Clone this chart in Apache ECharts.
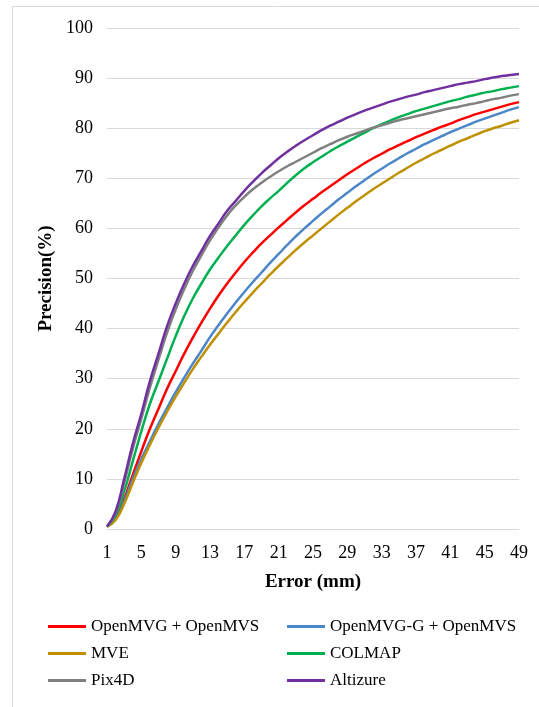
<!DOCTYPE html>
<html>
<head>
<meta charset="utf-8">
<title>Precision vs Error</title>
<script src="https://cdn.jsdelivr.net/npm/echarts@6/dist/echarts.min.js"></script>
<style>
  html, body { margin: 0; padding: 0; background: #fff; }
  #chart { width: 539px; height: 707px; }
</style>
</head>
<body>
<div id="chart"></div>
<script>
  // x 轴类别（误差 mm）
  const errorMm = ['1','2','3','4','5','6','7','8','9','10','11','12','13','14','15','16','17','18','19','20',
    '21','22','23','24','25','26','27','28','29','30','31','32','33','34','35','36','37','38','39','40',
    '41','42','43','44','45','46','47','48','49'];

  // 各方法精度（%）
  const openMvgOpenMvs = [0.5,2.2,6,10.8,15.5,20,24,28,31.5,35,38.2,41.2,44,46.6,49,51.2,53.3,55.2,57.0,58.6,
    60.2,61.7,63.2,64.6,65.9,67.2,68.4,69.6,70.8,71.9,73.0,74.0,74.9,75.8,76.6,77.4,78.2,78.9,79.6,80.3,
    80.9,81.6,82.2,82.8,83.3,83.8,84.3,84.8,85.2];
  const openMvgGOpenMvs = [0.5,2.0,5.5,10,14,17.5,21,24.2,27.3,30.2,33,35.6,38.3,40.7,43.0,45.2,47.3,49.3,51.2,53.1,
    54.9,56.7,58.4,60.0,61.5,63.0,64.4,65.8,67.1,68.4,69.6,70.8,71.9,73.0,74.0,75.0,75.9,76.8,77.6,78.4,
    79.2,79.9,80.6,81.3,81.9,82.5,83.1,83.7,84.2];
  const mve = [0.5,1.8,5.0,9.2,13.2,16.8,20.2,23.4,26.4,29.2,31.9,34.4,36.8,39.0,41.2,43.3,45.3,47.2,49.0,50.8,
    52.5,54.1,55.7,57.2,58.6,60.0,61.4,62.8,64.1,65.4,66.6,67.8,68.9,70.0,71.1,72.1,73.1,74.0,74.9,75.7,
    76.5,77.3,78.0,78.7,79.4,80.0,80.5,81.1,81.6];
  const colmap = [0.5,2.8,7.5,13.5,19.5,25,29.5,34,38.5,42.5,46,49,51.8,54.2,56.5,58.6,60.7,62.6,64.4,66.0,
    67.5,69.1,70.6,72.0,73.2,74.3,75.4,76.4,77.3,78.2,79.1,80.0,80.8,81.5,82.2,82.8,83.4,83.9,84.4,84.9,
    85.4,85.8,86.3,86.7,87.1,87.4,87.8,88.1,88.4];
  const pix4d = [0.5,3.2,9.2,16.0,22.0,28.2,33.8,39.2,43.8,47.9,51.5,54.6,57.6,60.2,62.6,64.6,66.3,67.8,69.1,70.3,
    71.4,72.4,73.3,74.2,75.1,76.0,76.8,77.6,78.3,78.9,79.5,80.1,80.6,81.1,81.6,82.0,82.4,82.8,83.2,83.6,
    84.0,84.3,84.7,85.0,85.4,85.8,86.1,86.5,86.8];
  const altizure = [0.5,3.5,10,17,23,29.5,35,40.5,45,49,52.5,55.5,58.5,61,63.5,65.5,67.5,69.3,71,72.5,
    74,75.3,76.5,77.6,78.6,79.6,80.5,81.3,82.1,82.8,83.5,84.1,84.7,85.3,85.8,86.3,86.7,87.2,87.6,88.0,
    88.4,88.8,89.1,89.4,89.8,90.1,90.4,90.6,90.8];

  const seriesList = [
    { name: 'OpenMVG + OpenMVS', data: openMvgOpenMvs, color: '#FF0000' },
    { name: 'OpenMVG-G + OpenMVS', data: openMvgGOpenMvs, color: '#4A86C8' },
    { name: 'MVE', data: mve, color: '#BF9000' },
    { name: 'COLMAP', data: colmap, color: '#00B050' },
    { name: 'Pix4D', data: pix4d, color: '#808080' },
    { name: 'Altizure', data: altizure, color: '#7030A0' },
  ];

  const fontFamily = '"Liberation Serif", "Times New Roman", serif';

  const chart = echarts.init(document.getElementById('chart'), null, { renderer: 'canvas' });

  // 图例：两列，图标为短线
  const legendCommon = {
    orient: 'vertical',
    top: 618,
    padding: 0,
    icon: 'rect',
    itemWidth: 38,
    itemHeight: 3,
    itemGap: 10,
    textStyle: { fontFamily, fontSize: 17, lineHeight: 17, color: '#000' },
  };

  const option = {
    backgroundColor: '#fff',
    animation: false,
    // 外框
    graphic: [
      {
        type: 'rect',
        shape: { x: 12.5, y: 6.5, width: 700, height: 900 },
        style: { fill: 'none', stroke: '#D9D9D9', lineWidth: 1 },
        silent: true,
      },
    ],
    grid: {
      left: 107,
      right: 20,
      top: 28,
      bottom: 707 - 529,
      containLabel: false,
    },
    legend: [
      Object.assign({}, legendCommon, {
        left: 48,
        data: ['OpenMVG + OpenMVS', 'MVE', 'Pix4D'],
      }),
      Object.assign({}, legendCommon, {
        left: 287,
        data: ['OpenMVG-G + OpenMVS', 'COLMAP', 'Altizure'],
      }),
    ],
    xAxis: {
      type: 'category',
      data: errorMm,
      boundaryGap: false,
      name: 'Error (mm)',
      nameLocation: 'middle',
      nameGap: 44,
      nameTextStyle: { fontFamily, fontSize: 19, fontWeight: 'bold', color: '#000' },
      axisLine: { show: true, lineStyle: { color: '#D9D9D9', width: 1 } },
      axisTick: { show: false },
      axisLabel: {
        interval: 3,
        margin: 15,
        fontFamily,
        fontSize: 18,
        color: '#000',
      },
      splitLine: { show: false },
    },
    yAxis: {
      type: 'value',
      min: 0,
      max: 100,
      interval: 10,
      name: 'Precision(%)',
      nameLocation: 'middle',
      nameGap: 48,
      nameTextStyle: { fontFamily, fontSize: 19, fontWeight: 'bold', color: '#000' },
      axisLine: { show: false },
      axisTick: { show: false },
      axisLabel: { margin: 14, fontFamily, fontSize: 18, color: '#000' },
      splitLine: { show: true, lineStyle: { color: '#D9D9D9', width: 1 } },
    },
    series: seriesList.map((s) => ({
      name: s.name,
      type: 'line',
      data: s.data,
      smooth: true,
      symbol: 'none',
      color: s.color,
      lineStyle: { color: s.color, width: 2.5 },
    })),
  };

  chart.setOption(option);
</script>
</body>
</html>
